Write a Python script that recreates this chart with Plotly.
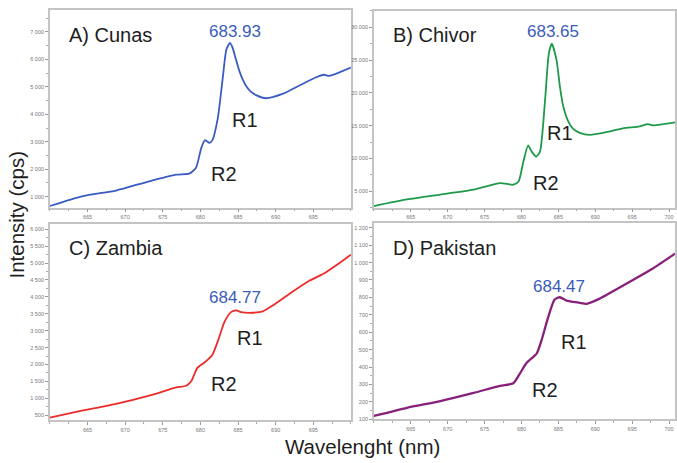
import plotly.graph_objects as go

# ---- data ----
wl_a = [660, 664.4, 668.8, 673.2, 676.8, 678.5, 679.4, 680.1, 680.6, 681.2, 681.6, 682.3, 683.0, 683.45, 683.93,
        684.28, 684.72, 685.17, 685.6, 686.05, 686.7, 687.4, 688.7, 690.9, 693.1, 695.3, 696.4, 697.1, 698.4, 700]
int_a = [660, 1020, 1224, 1560, 1800, 1836, 2040, 2760, 3060, 2960, 3060, 3840, 5400, 6360, 6600,
         6420, 6000, 5580, 5280, 5040, 4824, 4700, 4584, 4740, 5040, 5340, 5440, 5400, 5520, 5700]

wl_b = [660, 664.5, 669, 673.5, 677.1, 678.9, 679.6, 680.25, 680.9, 681.4, 682.0, 682.5, 683.2, 683.7, 684.1,
        684.75, 685.2, 685.65, 686.3, 687.0, 687.9, 689.25, 691.5, 693.75, 696, 697.1, 697.8, 700.8]
int_b = [2750, 3750, 4500, 5250, 6250, 6000, 6500, 9500, 12000, 11000, 10300, 11000, 19000, 26000, 27500,
         25000, 21000, 18000, 15750, 14500, 13900, 13600, 14000, 14600, 14900, 15250, 15050, 15500]

wl_c = [660, 664.4, 668.8, 673.2, 676.8, 678.1, 678.8, 679.6, 680.5, 681.6, 682.3, 683.2, 684.06, 684.77, 685.4,
        686.9, 688.3, 689.6, 691.8, 694.4, 696.6, 698.4, 700]
int_c = [428, 640, 835, 1078, 1320, 1370, 1514, 1900, 2050, 2290, 2680, 3260, 3550, 3600, 3550,
         3530, 3570, 3745, 4085, 4470, 4715, 4990, 5250]

wl_d = [660, 664.5, 669, 673.5, 677.1, 678.9, 679.8, 680.7, 682.05, 682.7, 683.6, 684.47, 685.2, 686.1, 687.9,
        688.8, 690.6, 692.4, 695.1, 697.8, 700.8]
int_d = [119, 166, 204, 251, 292, 307, 364, 424, 477, 552, 684, 787, 801, 782, 769,
         763, 793, 835, 900, 966, 1051]

titles = ["A) Cunas", "B) Chivor", "C) Zambia", "D) Pakistan"]
peaks = ["683.93", "683.65", "684.77", "684.47"]
colors = ["#3a5cc0", "#1f9a4a", "#ee2b2b", "#87207a"]

x_ticks_ac = [665, 670, 675, 680, 685, 690, 695]
x_ticks_bd = [665, 670, 675, 680, 685, 690, 695, 700]
y_ticks_a = [1000, 2000, 3000, 4000, 5000, 6000, 7000]
y_labels_a = ["1 000", "2 000", "3 000", "4 000", "5 000", "6 000", "7 000"]
y_ticks_b = [5000, 10000, 15000, 20000, 25000, 30000]
y_labels_b = ["5 000", "10 000", "15 000", "20 000", "25 000", "30 000"]
y_ticks_c = [500, 1000, 1500, 2000, 2500, 3000, 3500, 4000, 4500, 5000, 5500, 6000]
y_labels_c = ["500", "1 000", "1 500", "2 000", "2 500", "3 000", "3 500", "4 000", "4 500", "5 000", "5 500", "6 000"]
y_ticks_d = [100, 200, 300, 400, 500, 600, 700, 800, 900, 1000, 1100, 1200]
y_labels_d = ["100", "200", "300", "400", "500", "600", "700", "800", "900", "1 000", "1 100", "1 200"]

W, H = 677, 463
# panel pixel boxes: (left, right, top, bottom)
boxes = [(50, 352, 10, 209), (375, 677, 11, 209), (50, 352, 225, 423), (375, 677, 224, 422)]
xranges = [[660, 700], [660, 700.8], [660, 700], [660, 700.8]]
yranges = [[600, 7800], [2500, 32500], [350, 6170], [100, 1230]]
ytick_sets = [(y_ticks_a, y_labels_a), (y_ticks_b, y_labels_b), (y_ticks_c, y_labels_c), (y_ticks_d, y_labels_d)]
xtick_sets = [x_ticks_ac, x_ticks_bd, x_ticks_ac, x_ticks_bd]
yminor = [500, 2500, 250, 50]
widths = [1.8, 1.8, 1.8, 2.3]
series = [(wl_a, int_a), (wl_b, int_b), (wl_c, int_c), (wl_d, int_d)]

# annotation positions in axis-domain fractions
title_pos = [(0.056, 0.874), (0.056, 0.879), (0.056, 0.876), (0.056, 0.869)]
peak_pos = [(0.614, 0.892), (0.596, 0.896), (0.616, 0.624), (0.616, 0.674)]
r1_pos = [(0.647, 0.442), (0.618, 0.381), (0.664, 0.417), (0.664, 0.391)]
r2_pos = [(0.578, 0.171), (0.570, 0.124), (0.578, 0.184), (0.568, 0.149)]

fig = go.Figure()
layout = dict(
    width=W, height=H, margin=dict(l=0, r=0, t=0, b=0),
    paper_bgcolor="white", plot_bgcolor="white", showlegend=False,
    font=dict(family="Liberation Sans, Arial, sans-serif", color="#222"),
)
annotations = []
axis_line = "#c4c4c4"
for i in range(4):
    n = i + 1
    xs = "" if n == 1 else str(n)
    l, r, t, b = boxes[i]
    x, y = series[i]
    fig.add_trace(go.Scatter(x=x, y=y, mode="lines", xaxis="x" + xs, yaxis="y" + xs,
                             line=dict(color=colors[i], width=widths[i], shape="spline", smoothing=0.6),
                             hoverinfo="skip"))
    layout["xaxis" + xs] = dict(
        domain=[l / W, r / W], range=xranges[i], anchor="y" + xs,
        showline=True, mirror=True, linecolor=axis_line, linewidth=1.5,
        showgrid=False, zeroline=False,
        tickvals=xtick_sets[i], ticks="outside", ticklen=3, tickcolor="#999", tickwidth=1,
        tickfont=dict(size=5.5, color="#777"),
        minor=dict(dtick=2.5, tick0=660, ticks="outside", ticklen=2, tickcolor="#aaa", showgrid=False),
    )
    layout["yaxis" + xs] = dict(
        domain=[1 - b / H, 1 - t / H], range=yranges[i], anchor="x" + xs,
        showline=True, mirror=True, linecolor=axis_line, linewidth=1.5,
        showgrid=False, zeroline=False,
        tickvals=ytick_sets[i][0], ticktext=ytick_sets[i][1],
        ticks="outside", ticklen=3, tickcolor="#999", tickwidth=1,
        tickfont=dict(size=5.5, color="#777"),
        minor=dict(dtick=yminor[i], ticks="outside", ticklen=2, tickcolor="#aaa", showgrid=False),
    )
    xd = "x" + xs + " domain"
    yd = "y" + xs + " domain"
    annotations.append(dict(text=titles[i], x=title_pos[i][0], y=title_pos[i][1], xref=xd, yref=yd,
                            xanchor="left", yanchor="middle", showarrow=False,
                            font=dict(size=20, color="#1e1e1e")))
    annotations.append(dict(text=peaks[i], x=peak_pos[i][0], y=peak_pos[i][1], xref=xd, yref=yd,
                            xanchor="center", yanchor="middle", showarrow=False,
                            font=dict(size=17, color="#3b5cb8")))
    annotations.append(dict(text="R1", x=r1_pos[i][0], y=r1_pos[i][1], xref=xd, yref=yd,
                            xanchor="center", yanchor="middle", showarrow=False,
                            font=dict(size=20, color="#1e1e1e")))
    annotations.append(dict(text="R2", x=r2_pos[i][0], y=r2_pos[i][1], xref=xd, yref=yd,
                            xanchor="center", yanchor="middle", showarrow=False,
                            font=dict(size=20, color="#1e1e1e")))

annotations.append(dict(text="Wavelenght (nm)", x=363.5 / W, y=1 - 449 / H, xref="paper", yref="paper",
                        xanchor="center", yanchor="middle", showarrow=False,
                        font=dict(size=20.5, color="#1e1e1e")))
annotations.append(dict(text="Intensity (cps)", x=17 / W, y=1 - 216 / H, xref="paper", yref="paper",
                        xanchor="center", yanchor="middle", showarrow=False, textangle=-90,
                        font=dict(size=20.5, color="#1e1e1e")))
layout["annotations"] = annotations
fig.update_layout(**layout)
fig.write_html("out.html")
